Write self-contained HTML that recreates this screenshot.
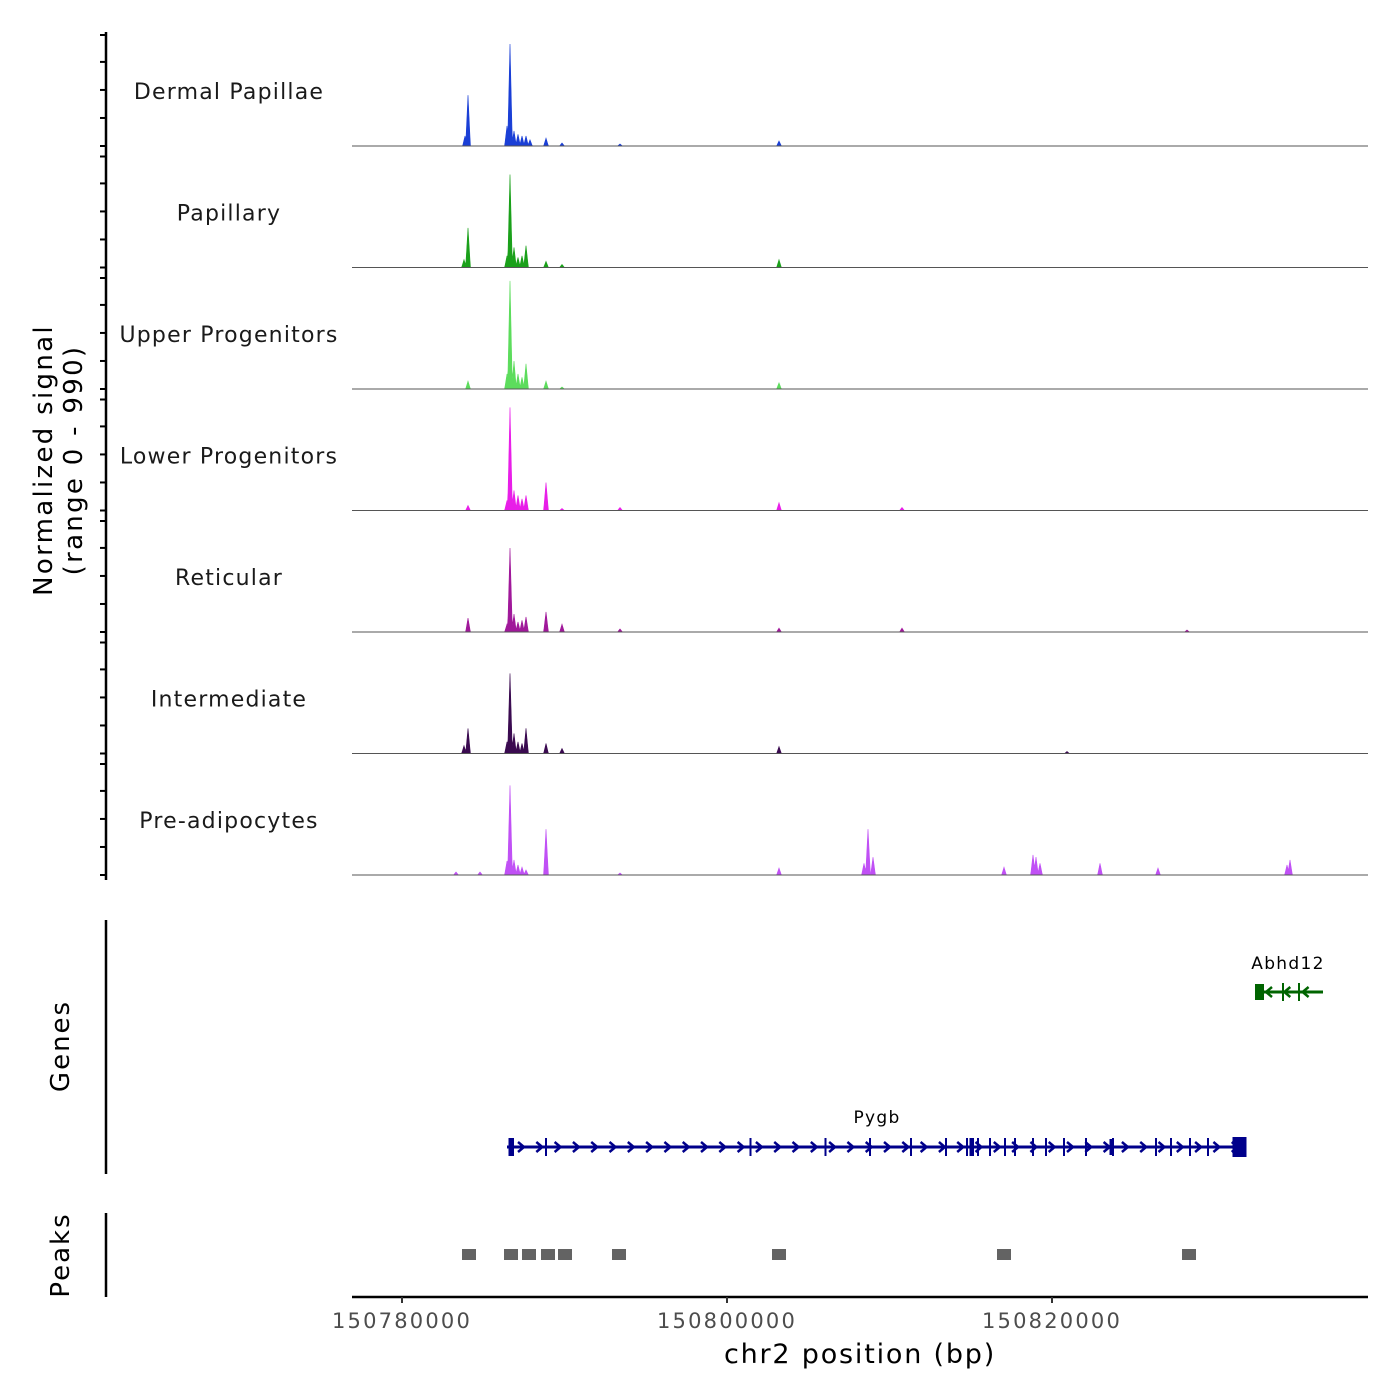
<!DOCTYPE html>
<html><head><meta charset="utf-8"><style>
html,body{margin:0;padding:0;background:#fff;}
svg{display:block;font-family:"DejaVu Sans","Liberation Sans",sans-serif;}
</style></head><body>
<svg id="chart" width="1400" height="1400" viewBox="0 0 1400 1400"></svg>
<script>
// ---- data ----
const trackNames = ["Dermal Papillae","Papillary","Upper Progenitors","Lower Progenitors","Reticular","Intermediate","Pre-adipocytes"];
const trackColors = ["#1a3fd6","#1aa01a","#5cdc5c","#e81ee8","#a0189a","#3a0a50","#c050f5"];
const xTicks = [150780000,150800000,150820000];
// peak positions (bp) and heights (normalized signal, 0-990) per track
const dermalPos = [150783877,150784062,150786462,150786646,150786892,150787138,150787385,150787631,150787877,150788862,150789846,150793415,150803200];
const dermalVal = [90,455,180,910,135,105,90,90,55,70,27,18,45];
const papillaryPos = [150783815,150784062,150786462,150786646,150786892,150787138,150787385,150787631,150788862,150789846,150803200];
const papillaryVal = [70,355,105,830,180,90,105,195,55,27,70];
const upperPos = [150784062,150786462,150786646,150786892,150787138,150787385,150787631,150788862,150789846,150803200];
const upperVal = [70,135,965,250,135,105,225,70,18,55];
const lowerPos = [150784062,150786462,150786646,150786892,150787138,150787385,150787631,150788862,150789846,150793415,150803200,150810769];
const lowerVal = [45,90,920,180,135,105,135,250,18,27,70,27];
const reticularPos = [150784062,150786462,150786646,150786892,150787138,150787385,150787631,150788862,150789846,150793415,150803200,150810769,150828308];
const reticularVal = [125,70,750,160,90,105,135,180,70,27,35,35,18];
const intermediatePos = [150783815,150784062,150786462,150786646,150786892,150787138,150787385,150787631,150788862,150789846,150803200,150820923];
const intermediateVal = [70,225,105,715,180,105,90,225,90,45,62,18];
const preadipPos = [150783323,150784800,150786462,150786646,150786892,150787138,150787385,150787631,150788862,150793415,150803200,150808431,150808677,150808985,150817046,150818831,150819015,150819262,150822954,150826523,150834462,150834646];
const preadipVal = [27,27,125,800,135,90,70,45,410,18,62,105,410,160,70,180,160,105,105,62,90,135];
const trackPos = [dermalPos,papillaryPos,upperPos,lowerPos,reticularPos,intermediatePos,preadipPos];
const trackVal = [dermalVal,papillaryVal,upperVal,lowerVal,reticularVal,intermediateVal,preadipVal];
const peakRegions = [150784123,150786708,150787815,150788985,150790031,150793354,150803200,150817046,150828431];
const pygbExons = [150786769,150788862,150801446,150806062,150808800,150811323,150813477,150814769,150815446,150816185,150817108,150817723,150818831,150819631,150820738,150822092,150823754,150826400,150827323,150828492,150829600];
const abhd12Exons = [150834215,150835200];

// ---- scales ----
const X0=352,X1=1368,BP0=150776923,BP1=150839446;
const xs=bp=>X0+(bp-BP0)/(BP1-BP0)*(X1-X0);
const baseY=i=>146+i*121.5;
const TH=111, YMAX=990;
const ys=(i,v)=>baseY(i)-v/YMAX*TH;

const svg=document.getElementById('chart');
const NS="http://www.w3.org/2000/svg";
function mk(tag,attrs,parent){const e=document.createElementNS(NS,tag);for(const k in attrs)e.setAttribute(k,attrs[k]);(parent||svg).appendChild(e);return e;}

// y-axis signal
const ax=mk('line',{x1:106,y1:32,x2:106,y2:880,stroke:'#000','stroke-width':2.5});


for(let i=0;i<7;i++){
  for(const v of [0,250,500,750,990]){
    const t=mk('line',{x1:100,x2:106,y1:ys(i,v),y2:ys(i,v),stroke:'#000','stroke-width':2});
    
    
  }
}
const yt=mk('text',{transform:'translate(52,460) rotate(-90)','text-anchor':'middle','font-size':26,'letter-spacing':2.3,fill:'#000'});


mk('tspan',{x:0,dy:0},yt).textContent='Normalized signal';
mk('tspan',{x:0,dy:30},yt).textContent='(range 0 - 990)';

// tracks
for(let i=0;i<7;i++){
  const g=mk('g',{});
  
  
  const lbl=mk('text',{x:229,y:baseY(i)-47,'text-anchor':'middle','font-size':22,'letter-spacing':1.2,fill:'#1a1a1a'},g);
  lbl.textContent=trackNames[i];
  
  
  const pos=trackPos[i],val=trackVal[i];
  let d='M'+X0+','+baseY(i);
  for(let px=X0;px<=X1;px+=0.5){
    let v=0;
    for(let k=0;k<pos.length;k++){
      const dx=Math.abs(px-xs(pos[k]));
      const hw=2.4;
      if(dx<hw)v=Math.max(v,val[k]*(1-dx/hw));
    }
    d+='L'+px+','+ys(i,v).toFixed(2);
  }
  d+='L'+X1+','+baseY(i)+'Z';
  const p=mk('path',{d:d,fill:trackColors[i],stroke:trackColors[i],'stroke-width':0.6},g);
  
  
  const bl=mk('line',{x1:X0,x2:X1,y1:baseY(i),y2:baseY(i),stroke:'#555','stroke-width':1},g);
  
  
}

// genes
const ga=mk('line',{x1:106,y1:920,x2:106,y2:1174,stroke:'#000','stroke-width':2.5});


const gt=mk('text',{transform:'translate(69,1046) rotate(-90)','text-anchor':'middle','font-size':26,'letter-spacing':2,fill:'#000'});
gt.textContent='Genes';



function gene(name,start,end,y,col,exons,dir,boxes,lx,ly){
  const g=mk('g',{});
  
  
  mk('line',{x1:xs(start),x2:xs(end),y1:y,y2:y,stroke:col,'stroke-width':3},g);
  for(let x=xs(start)+14;x<xs(end)-8;x+=18.3){
    const a=dir>0?`M${x-3},${y-5}L${x+3},${y}L${x-3},${y+5}`:`M${x+3},${y-5}L${x-3},${y}L${x+3},${y+5}`;
    mk('path',{d:a,stroke:col,'stroke-width':2.5,fill:'none'},g);
  }
  for(const e of exons)mk('line',{x1:xs(e),x2:xs(e),y1:y-9,y2:y+9,stroke:col,'stroke-width':2},g);
  for(const b of boxes)mk('rect',{x:xs(b[0]),y:y-b[2]/2,width:xs(b[1])-xs(b[0]),height:b[2],fill:col},g);
  const t=mk('text',{x:lx,y:ly,'text-anchor':'middle','font-size':17,'letter-spacing':1.3,fill:'#000'},g);
  t.textContent=name;
}
gene('Pygb',150786462,150831969,1147,'#00008b',pygbExons,1,[[150786554,150786892,18],[150831108,150831969,20],[150814923,150815200,18],[150823538,150823815,16]],877,1123);
gene('Abhd12',150832492,150836677,992,'#006400',abhd12Exons,-1,[[150832492,150833046,16]],1288,969);

// peaks
const pa=mk('line',{x1:106,y1:1213,x2:106,y2:1297,stroke:'#000','stroke-width':2.5});


const pt=mk('text',{transform:'translate(69,1255) rotate(-90)','text-anchor':'middle','font-size':26,'letter-spacing':2,fill:'#000'});
pt.textContent='Peaks';


for(const p of peakRegions){
  const r=mk('rect',{x:xs(p)-7,y:1249,width:14,height:11,fill:'#636363'});
  
  
}

// x axis
const xa=mk('line',{x1:X0,x2:X1,y1:1297,y2:1297,stroke:'#000','stroke-width':2.5});


for(const t of xTicks){
  const tk=mk('line',{x1:xs(t),x2:xs(t),y1:1297,y2:1303,stroke:'#333','stroke-width':2});
  
  
  const tl=mk('text',{x:xs(t),y:1328,'text-anchor':'middle','font-size':21,'letter-spacing':2.2,fill:'#4d4d4d'});
  tl.textContent=String(t);
  
  
}
const xt=mk('text',{x:860,y:1363,'text-anchor':'middle','font-size':27,'letter-spacing':1.8,fill:'#000'});
xt.textContent='chr2 position (bp)';


</script>
</body></html>
